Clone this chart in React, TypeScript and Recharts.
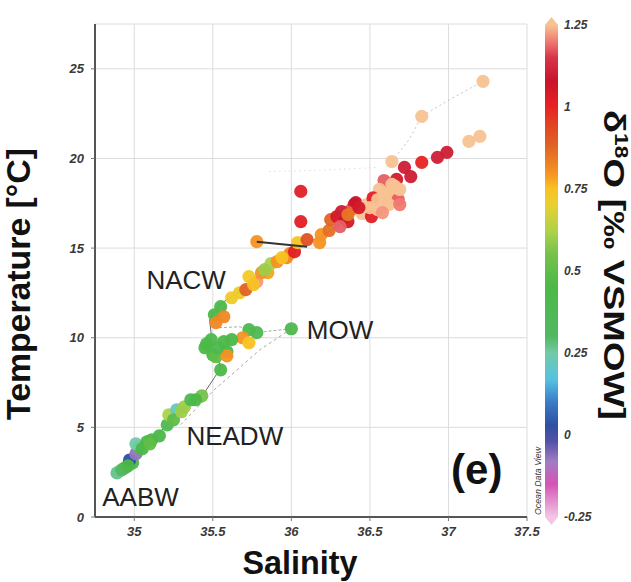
import { ComposedChart, Scatter, XAxis, YAxis, CartesianGrid, ReferenceDot } from "recharts"

// T-S diagram, points coloured by d18O (per mil VSMOW)
const salinity = [
  34.89, 34.94, 34.99, 34.97, 35.01, 35.03, 35.01, 35.08, 35.11, 35.21,
  35.22, 35.27, 35.32, 35.36, 35.43, 35.55, 35.45, 35.49, 35.5, 35.52,
  35.57, 35.59, 35.59, 35.73, 35.78, 35.69, 35.73, 36.0, 35.51, 35.55,
  35.57, 35.52, 35.67, 35.71, 35.78, 35.73, 35.85, 35.81, 35.87, 35.97,
  35.99, 36.02, 36.04, 36.1, 36.18, 36.19, 36.24, 36.25, 36.29, 36.34,
  36.36, 36.31, 36.38, 36.4, 36.41, 36.45, 36.51, 35.78, 36.06, 36.06,
  36.58, 36.61, 36.64, 36.61, 36.59, 36.67, 36.68, 36.64, 36.56, 36.66,
  36.69, 36.55, 36.72, 36.76, 36.83, 36.93, 36.99, 36.83, 37.13, 37.2,
  37.22, 36.48, 36.52, 36.36,
  34.92, 34.96, 35.05, 35.1, 35.16, 35.25, 35.3, 35.39, 35.46, 35.53,
  35.62, 36.59, 36.62, 36.55, 36.5, 36.58, 36.64, 36.69, 36.43, 36.32,
  36.36, 35.76, 35.83, 35.62, 35.91, 35.94,
]
const temperature = [
  2.46, 2.74, 3.02, 3.18, 3.52, 3.91, 4.08, 4.19, 4.3, 5.14,
  5.7, 5.98, 6.15, 6.54, 6.76, 8.21, 9.44, 9.89, 9.05, 8.94,
  9.78, 9.22, 8.99, 10.45, 10.28, 10.0, 9.72, 10.5, 11.28, 11.73,
  11.17, 10.84, 12.51, 12.68, 13.13, 13.41, 13.63, 13.63, 14.13, 14.47,
  14.69, 14.8, 15.31, 15.47, 15.31, 15.75, 15.98, 16.59, 16.76, 16.7,
  16.48, 16.2, 17.15, 17.43, 17.54, 16.93, 16.76, 15.36, 16.48, 18.16,
  17.32, 17.54, 17.88, 18.16, 18.77, 18.83, 17.71, 19.83, 18.27, 18.44,
  18.27, 17.15, 19.5, 18.99, 19.78, 20.06, 20.34, 22.35, 20.95, 21.23,
  24.3, 17.43, 17.8, 17.0,
  2.63, 2.85, 3.8, 4.08, 4.53, 5.42, 5.87, 6.54, 9.66, 9.44,
  9.89, 17.99, 17.43, 17.71, 17.26, 16.98, 18.55, 17.43, 17.26, 17.04,
  16.87, 12.96, 13.8, 12.23, 14.25, 14.47,
]
const d18O = [
  0.27, 0.4, 0.42, 0.03, -0.07, 0.4, 0.25, 0.42, 0.45, 0.4,
  0.62, 0.22, 0.6, 0.38, 0.55, 0.45, 0.45, 0.42, 0.45, 0.5,
  0.45, 0.45, 0.8, 0.42, 0.4, 0.8, 0.75, 0.42, 0.45, 0.45,
  0.82, 0.82, 0.72, 0.88, 1.22, 0.73, 0.78, 0.8, 0.62, 0.82,
  0.82, 1.02, 0.74, 0.92, 0.8, 0.8, 0.86, 0.88, 1.05, 1.08,
  1.05, 1.18, 0.82, 1.02, 1.08, 1.25, 1.02, 0.8, 1.02, 1.02,
  1.25, 1.25, 1.25, 1.25, 1.18, 1.05, 1.18, 1.25, 1.25, 1.25,
  1.25, 1.25, 1.1, 1.1, 1.0, 1.1, 1.1, 1.25, 1.25, 1.25,
  1.25, 1.25, 1.02, 1.18,
  0.3, 0.45, 0.45, 0.5, 0.45, 0.5, 0.6, 0.45, 0.45, 0.42,
  0.45, 1.25, 1.25, 1.25, 1.25, 1.22, 1.25, 1.2, 1.05, 1.1,
  0.85, 0.75, 0.6, 0.72, 0.8, 0.75,
]

// station profile tracks (salinity, temperature)
const trackS = [34.89, 34.99, 35.08, 35.21, 35.35, 35.45, 35.51, 35.55, 35.54, 35.46, 35.49, 35.48, 35.54, 35.67, 35.81, 35.96, 36.05, 36.24, 36.37, 36.56, 36.66]
const trackT = [2.46, 3.07, 4.08, 5.14, 6.31, 6.98, 7.77, 8.32, 8.66, 9.33, 10.17, 11.0, 11.84, 12.57, 13.52, 14.47, 15.03, 15.92, 16.7, 17.71, 18.55]
const mowDeepS = [36.0, 35.8, 35.51, 35.29]
const mowDeepT = [10.5, 9.33, 7.1, 5.1]
const mowLevelS = [36.0, 35.83, 35.67, 35.53]
const mowLevelT = [10.5, 10.34, 10.61, 10.56]
const surfaceS = [36.64, 36.75, 36.83, 37.01, 37.22]
const surfaceT = [19.83, 21.06, 22.35, 23.3, 24.3]
const barS = [35.78, 36.1]
const barT = [15.36, 15.08]
const faintS = [35.86, 36.2, 36.56]
const faintT = [19.27, 19.35, 19.5]

const xTicks = [35, 35.5, 36, 36.5, 37, 37.5]
const yTicks = [0, 5, 10, 15, 20, 25]
const colorTicks = [1.25, 1, 0.75, 0.5, 0.25, 0, -0.25]

const waterMasses = [
  { name: "NACW", s: 35.33, t: 13.24 },
  { name: "MOW", s: 36.31, t: 10.45 },
  { name: "NEADW", s: 35.64, t: 4.53 },
  { name: "AABW", s: 35.04, t: 1.12 },
]

const colorStops: [number, string][] = [
  [-0.25, "#f2c6e4"],
  [-0.15, "#d455b4"],
  [-0.08, "#a07cc4"],
  [-0.02, "#5252a8"],
  [0.03, "#2f4fa2"],
  [0.1, "#3a7cc8"],
  [0.17, "#56c2e2"],
  [0.25, "#72caa8"],
  [0.3, "#52b862"],
  [0.45, "#4cb848"],
  [0.55, "#74c24a"],
  [0.62, "#acd24a"],
  [0.7, "#e8d030"],
  [0.75, "#f8c222"],
  [0.8, "#f59222"],
  [0.88, "#e06424"],
  [0.95, "#e04222"],
  [1.0, "#e82222"],
  [1.08, "#c8142c"],
  [1.15, "#d8344a"],
  [1.2, "#f07a70"],
  [1.25, "#f8c292"],
]

const hex = (h: string) => [1, 3, 5].map((i) => parseInt(h.slice(i, i + 2), 16))

const colorFor = (v: number) => {
  if (v <= colorStops[0][0]) return colorStops[0][1]
  for (let i = 1; i < colorStops.length; i++) {
    const [v1, c1] = colorStops[i]
    const [v0, c0] = colorStops[i - 1]
    if (v <= v1) {
      const f = (v - v0) / (v1 - v0)
      const a = hex(c0)
      const b = hex(c1)
      const c = a.map((x, k) => Math.round(x + (b[k] - x) * f))
      return `rgb(${c[0]},${c[1]},${c[2]})`
    }
  }
  return colorStops[colorStops.length - 1][1]
}

const points = salinity.map((s, i) => ({ s, t: temperature[i], d: d18O[i] }))
const pairs = (xs: number[], ys: number[]) => xs.map((s, i) => ({ s, t: ys[i] }))

const font = "'Liberation Sans', Arial, Helvetica, sans-serif"
const tickStyle = { fontSize: 13, fontWeight: 700, fontStyle: "italic", fill: "#3a3a3a", fontFamily: font }

// colour bar geometry (legend)
const barTop = 25
const barBottom = 517
const barX = 545
const barW = 13
const barY = (v: number) => barTop + ((1.25 - v) / 1.5) * (barBottom - barTop)

const Dot = (p: any) => <circle cx={p.cx} cy={p.cy} r={6.6} fill={colorFor(p.payload.d)} fillOpacity={0.95} />
const NoDot = () => <g />

export default function App() {
  return (
    <div style={{ position: "absolute", left: 0, top: 0, width: 631, height: 582, background: "#fff" }}>
      <ComposedChart width={631} height={582} margin={{ top: 24, right: 104, bottom: 35, left: 55 }}>
        <CartesianGrid stroke="#dcdcdc" strokeWidth={1} />
        <XAxis
          dataKey="s"
          type="number"
          domain={[34.75, 37.5]}
          ticks={xTicks}
          allowDataOverflow
          height={30}
          tickSize={4}
          tickMargin={6}
          tick={tickStyle}
          tickLine={{ stroke: "#777" }}
          axisLine={{ stroke: "#555", strokeWidth: 2 }}
        />
        <XAxis xAxisId="top" orientation="top" type="number" domain={[34.75, 37.5]} height={0} tick={false} tickLine={false} axisLine={{ stroke: "#555", strokeWidth: 2 }} />
        <YAxis
          dataKey="t"
          type="number"
          domain={[0, 27.5]}
          ticks={yTicks}
          allowDataOverflow
          width={40}
          tickSize={4}
          tickMargin={7}
          tick={tickStyle}
          tickLine={{ stroke: "#777" }}
          axisLine={{ stroke: "#555", strokeWidth: 2 }}
        />
        <YAxis yAxisId="right" orientation="right" type="number" domain={[0, 27.5]} width={0} tick={false} tickLine={false} axisLine={{ stroke: "#555", strokeWidth: 2 }} />

        <Scatter data={pairs(faintS, faintT)} line={{ stroke: "#cfcfcf", strokeWidth: 1, strokeDasharray: "1 4" }} shape={NoDot} isAnimationActive={false} />
        <Scatter data={pairs(surfaceS, surfaceT)} line={{ stroke: "#bcc6cc", strokeWidth: 1, strokeDasharray: "2 3" }} shape={NoDot} isAnimationActive={false} />
        <Scatter data={pairs(mowDeepS, mowDeepT)} line={{ stroke: "#a8a8a8", strokeWidth: 1, strokeDasharray: "3 3" }} shape={NoDot} isAnimationActive={false} />
        <Scatter data={pairs(mowLevelS, mowLevelT)} line={{ stroke: "#a8a8a8", strokeWidth: 1, strokeDasharray: "3 2" }} shape={NoDot} isAnimationActive={false} />
        <Scatter data={pairs(trackS, trackT)} line={{ stroke: "#666", strokeWidth: 1 }} shape={NoDot} isAnimationActive={false} />
        <Scatter data={points} shape={Dot} isAnimationActive={false} />
        <Scatter data={pairs(barS, barT)} line={{ stroke: "#333", strokeWidth: 2 }} shape={NoDot} isAnimationActive={false} />

        {waterMasses.map((w) => (
          <ReferenceDot
            key={w.name}
            x={w.s}
            y={w.t}
            r={0}
            stroke="none"
            label={{ value: w.name, position: "center", fontSize: 26, fill: "#222", fontFamily: font }}
          />
        ))}
        <ReferenceDot x={37.18} y={2.68} r={0} stroke="none" label={{ value: "(e)", position: "center", fontSize: 42, fontWeight: 700, fill: "#111", fontFamily: font }} />
      </ComposedChart>

      <svg width={631} height={582} style={{ position: "absolute", left: 0, top: 0, pointerEvents: "none" }}>
        <defs>
          <linearGradient id="d18o" x1="0" y1="0" x2="0" y2="1">
            {colorStops
              .slice()
              .reverse()
              .map(([v, c]) => (
                <stop key={v} offset={(1.25 - v) / 1.5} stopColor={c} />
              ))}
          </linearGradient>
        </defs>
        <polygon points={`${barX},${barTop} ${barX + barW / 2},${barTop - 8} ${barX + barW},${barTop}`} fill={colorFor(1.25)} />
        <rect x={barX} y={barTop} width={barW} height={barBottom - barTop} fill="url(#d18o)" />
        <polygon points={`${barX},${barBottom} ${barX + barW / 2},${barBottom + 8} ${barX + barW},${barBottom}`} fill={colorFor(-0.25)} />
        {colorTicks.map((v) => (
          <text key={v} x={barX + barW + 6} y={barY(v)} dy="0.35em" style={{ ...tickStyle, fontSize: 12 }}>
            {v}
          </text>
        ))}
        <text
          transform="translate(538,481) rotate(-90)"
          textAnchor="middle"
          dy="0.35em"
          fontSize={8.5}
          fontStyle="italic"
          fill="#333"
          fontFamily={font}
          textLength={68}
          lengthAdjust="spacingAndGlyphs"
        >
          Ocean Data View
        </text>
        <text x={300} y={574} textAnchor="middle" fontSize={34} fontWeight={700} fill="#111" fontFamily={font} textLength={115} lengthAdjust="spacingAndGlyphs">
          Salinity
        </text>
        <text transform="translate(30,284) rotate(-90)" textAnchor="middle" fontSize={34} fontWeight={700} fill="#111" fontFamily={font} textLength={272} lengthAdjust="spacingAndGlyphs">
          Temperature [°C]
        </text>
        <text transform="translate(604,265) rotate(90)" textAnchor="middle" fontSize={30} fontWeight={700} fill="#111" fontFamily={font} textLength={310} lengthAdjust="spacingAndGlyphs">
          δ<tspan fontSize={18} dy={-11}>18</tspan>
          <tspan dy={11}>O [‰ VSMOW]</tspan>
        </text>
      </svg>
    </div>
  )
}
